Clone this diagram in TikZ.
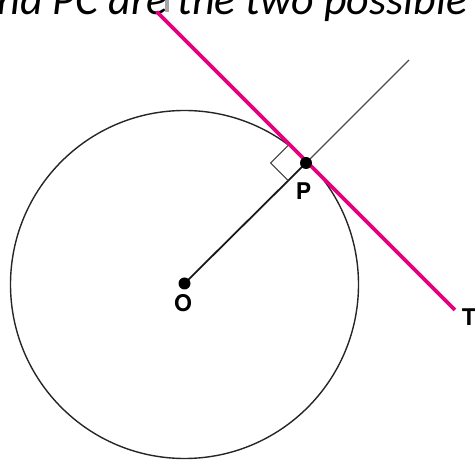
\documentclass[tikz,border=0pt]{standalone}
\usepackage{fontspec}
\setmainfont{Carlito}
\newfontfamily\labelfont{TeX Gyre Heros}
\definecolor{tanmag}{RGB}{230,0,126}
\begin{document}
\begin{tikzpicture}[x=1pt,y=1pt,
  circ/.style={draw=black!85,line width=1.4pt},
  rad/.style={draw=black!90,line width=1.8pt},
  ext/.style={draw=black!70,line width=1.1pt},
  tang/.style={draw=tanmag,line width=3.6pt},
  rightmark/.style={draw=black!75,line width=1.1pt},
  dotmark/.style={circle,fill=black,inner sep=0pt,minimum size=12pt},
  lbl/.style={font=\labelfont\bfseries\fontsize{23}{23}\selectfont,inner sep=0pt}]
\useasboundingbox (0,0) rectangle (475,461);
\clip (0,0) rectangle (475,461);
% caption (cut off at the top)
\node[anchor=base west,inner sep=0pt,font=\itshape\fontsize{44}{44}\selectfont] (caption) at (-25,446) {and PC are the two possible tangents};
\fill[black!35] (165,449) rectangle (168.5,461);
% points
\coordinate (C) at (184.5,176.5);
\coordinate (O) at (184.5,177.5);
\coordinate (P) at (306,298);
\coordinate (Ttop) at (156.7,449.3);
\coordinate (Tend) at (455,151);
\coordinate (E) at (409,401);
\coordinate (RA) at (288.3,315.7);
\coordinate (RB) at (288.3,280.3);
\coordinate (RC) at (270.6,298);
% circle
\draw[circ] (C) circle[radius=174pt];
% radius and extension
\draw[rad] (O) -- (P);
\draw[ext] (P) -- (E);
% right angle mark
\draw[rightmark] (RA) -- (RC) -- (RB);
% tangent
\draw[tang] (Ttop) -- (Tend);
% dots
\node[dotmark] (Odot) at (O) {};
\node[dotmark] (Pdot) at (P) {};
% labels
\node[lbl] (Olbl) at (183,157.5) {O};
\node[lbl] (Plbl) at (303.5,269.5) {P};
\node[lbl] (Tlbl) at (469,144) {T};
\end{tikzpicture}
\end{document}
